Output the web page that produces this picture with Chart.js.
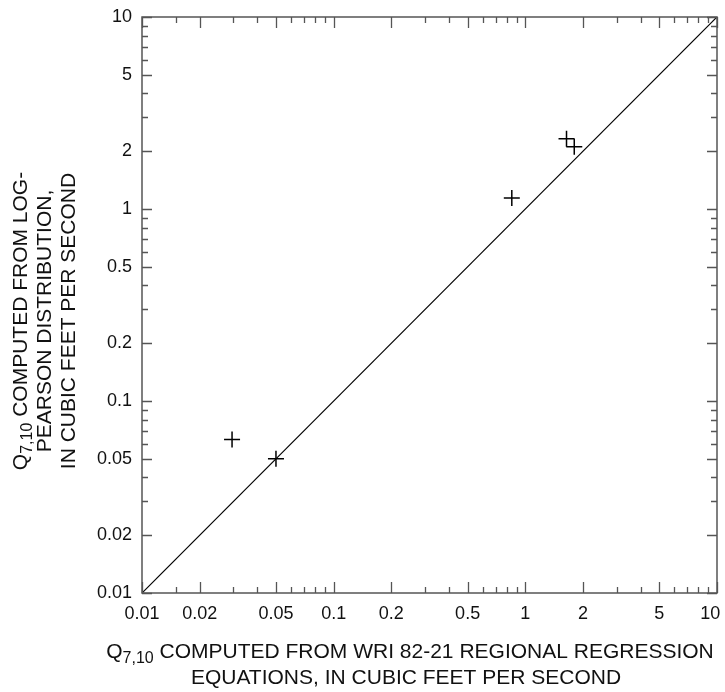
<!DOCTYPE html>
<html>
<head>
<meta charset="utf-8">
<script src="https://cdn.jsdelivr.net/npm/chart.js@4.4.0/dist/chart.umd.min.js"></script>
<style>
  html, body { margin: 0; padding: 0; background: #fff; }
  #wrap { width: 725px; height: 692px; }
</style>
</head>
<body>
<div id="wrap"><canvas id="chart" width="725" height="692"></canvas></div>
<script>
// Q7,10 values, cubic feet per second
const regressionQ = [0.0295, 0.05, 0.85, 1.64, 1.80];   // WRI 82-21 regional regression
const logPearsonQ = [0.063, 0.05, 1.14, 2.32, 2.11];    // log-Pearson distribution
const equalityLine = [0.01, 10];

const axisMin = 0.01;
const axisMax = 10;
const majorTicks = [0.01, 0.02, 0.05, 0.1, 0.2, 0.5, 1, 2, 5, 10];
const minorTicksX = [0.015, 0.03, 0.04, 0.06, 0.07, 0.08, 0.09,
  0.3, 0.4, 0.6, 0.7, 0.8, 0.9, 3, 4, 6, 7, 8, 9];
const minorTicksY = [0.03, 0.04, 0.06, 0.07, 0.08, 0.09,
  0.3, 0.4, 0.6, 0.7, 0.8, 0.9, 3, 4, 6, 7, 8, 9];

const xTitleLines = [
  [['Q'], ['7,10', true], [' COMPUTED FROM WRI 82-21 REGIONAL REGRESSION']],
  [['EQUATIONS, IN CUBIC FEET PER SECOND']]
];
const yTitleLines = [
  [['Q'], ['7,10', true], [' COMPUTED FROM LOG-']],
  [['PEARSON DISTRIBUTION,']],
  [['IN CUBIC FEET PER SECOND']]
];

const FONT = "'Liberation Sans', Arial, sans-serif";
const frameColor = '#555';

function drawTitleLine(ctx, parts, cx, baseline) {
  const big = '21px ' + FONT, small = '16px ' + FONT;
  let total = 0;
  parts.forEach(p => {
    ctx.font = p[1] ? small : big;
    total += ctx.measureText(p[0]).width;
  });
  let x = cx - total / 2;
  parts.forEach(p => {
    ctx.font = p[1] ? small : big;
    ctx.fillText(p[0], x, baseline + (p[1] ? 5 : 0));
    x += ctx.measureText(p[0]).width;
  });
}

const framePlugin = {
  id: 'frame',
  afterDraw(chart) {
    const ctx = chart.ctx;
    const area = chart.chartArea;
    const xs = chart.scales.x, ys = chart.scales.y;
    ctx.save();
    ctx.strokeStyle = frameColor;
    ctx.lineWidth = 1.5;
    ctx.strokeRect(area.left, area.top, area.right - area.left, area.bottom - area.top);

    ctx.lineWidth = 1.3;
    ctx.beginPath();
    const tickX = (v, len) => {
      const px = Math.round(xs.getPixelForValue(v)) + 0.5;
      ctx.moveTo(px, area.bottom); ctx.lineTo(px, area.bottom - len);
      ctx.moveTo(px, area.top); ctx.lineTo(px, area.top + len);
    };
    const tickY = (v, len) => {
      const py = Math.round(ys.getPixelForValue(v)) + 0.5;
      ctx.moveTo(area.left, py); ctx.lineTo(area.left + len, py);
      ctx.moveTo(area.right, py); ctx.lineTo(area.right - len, py);
    };
    majorTicks.forEach(v => { tickX(v, 11); tickY(v, 10); });
    minorTicksX.forEach(v => tickX(v, 6));
    minorTicksY.forEach(v => tickY(v, 6));
    ctx.stroke();

    // axis titles
    ctx.fillStyle = '#111';
    ctx.textAlign = 'left';
    ctx.textBaseline = 'alphabetic';
    drawTitleLine(ctx, xTitleLines[0], 410, 658);
    drawTitleLine(ctx, xTitleLines[1], 406, 684);

    const yBaselines = [27, 51, 75];
    yTitleLines.forEach((line, i) => {
      ctx.save();
      ctx.translate(yBaselines[i], 321);
      ctx.rotate(-Math.PI / 2);
      drawTitleLine(ctx, line, 0, 0);
      ctx.restore();
    });
    ctx.restore();
  }
};

const tickFont = { family: FONT, size: 18 };

new Chart(document.getElementById('chart'), {
  type: 'scatter',
  data: {
    datasets: [{
      label: 'Sites',
      data: regressionQ.map((x, i) => ({ x: x, y: logPearsonQ[i] })),
      pointStyle: 'cross',
      pointRadius: 8,
      pointBorderWidth: 1.5,
      borderColor: '#000',
      backgroundColor: '#000',
      showLine: false
    }, {
      label: 'Line of equality',
      data: equalityLine.map(v => ({ x: v, y: v })),
      showLine: true,
      pointRadius: 0,
      borderColor: '#000',
      borderWidth: 1.2
    }]
  },
  options: {
    responsive: false,
    animation: false,
    devicePixelRatio: 1,
    layout: {
      autoPadding: false,
      padding: { left: 0, right: 8, top: 17, bottom: 0 }
    },
    plugins: {
      legend: { display: false },
      tooltip: { enabled: false }
    },
    scales: {
      x: {
        type: 'logarithmic',
        position: 'bottom',
        min: axisMin,
        max: axisMax,
        grid: { display: false, drawTicks: false },
        border: { display: false },
        ticks: {
          font: tickFont,
          color: '#111',
          padding: 10,
          autoSkip: false,
          maxRotation: 0,
          // last label sits left of its tick so it stays on the page
          callback: v => v === axisMax ? String(v) + '\u2007\u2009' : String(v)
        },
        afterBuildTicks: s => { s.ticks = majorTicks.map(v => ({ value: v })); },
        afterFit: s => { s.height = 99; s.paddingLeft = 0; s.paddingRight = 0; }
      },
      y: {
        type: 'logarithmic',
        position: 'left',
        min: axisMin,
        max: axisMax,
        grid: { display: false, drawTicks: false },
        border: { display: false },
        ticks: {
          font: tickFont,
          color: '#111',
          padding: 10,
          autoSkip: false,
          callback: v => String(v)
        },
        afterBuildTicks: s => { s.ticks = majorTicks.map(v => ({ value: v })); },
        afterFit: s => { s.width = 142; s.paddingTop = 0; s.paddingBottom = 0; }
      }
    }
  },
  plugins: [framePlugin]
});
</script>
</body>
</html>
